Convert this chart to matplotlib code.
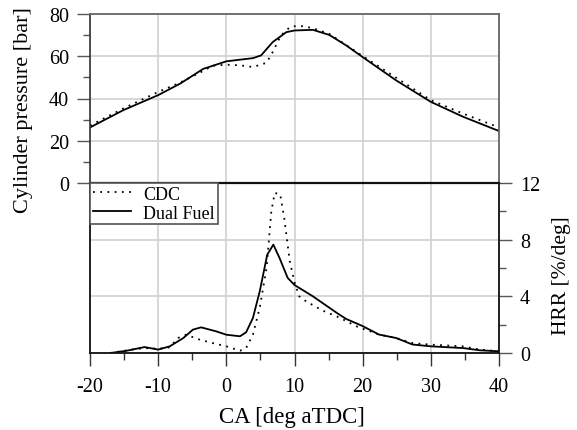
import matplotlib
matplotlib.use("Agg")
import matplotlib.pyplot as plt
from matplotlib.ticker import MultipleLocator

plt.rcParams['font.family'] = ['Liberation Serif', 'DejaVu Serif']
plt.rcParams['axes.unicode_minus'] = False

# Cylinder pressure [bar]
p_df_ca = [-20, -15.1, -10, -6.8, -3.4, 0, 3.9, 5.1, 6.8, 8.8, 10, 12.7, 15.1, 17.6, 20, 24.9, 30, 34.7, 40]
p_df = [26.3, 34.5, 41.6, 47, 54, 57.6, 59.1, 60.4, 66.7, 71.4, 72.2, 72.5, 70.1, 65.1, 59.6, 48.6, 38.4, 31.4, 24.6]
p_cdc_ca = [-20, -15.1, -10, -6.8, -3.9, -2, 0, 2, 3.9, 5.9, 6.8, 8, 9.3, 10, 11.2, 12.7, 15.1, 20, 30, 34.7, 40]
p_cdc = [27.2, 35.3, 43.1, 47.5, 52.2, 55.5, 56, 55.7, 54.9, 56.9, 62, 69.8, 73.7, 74.2, 74.2, 73.3, 70.6, 60.1, 39.2, 32.9, 26.3]

# Heat release rate [%/deg]
h_df_ca = [-17, -14.6, -12, -10, -8.3, -6.3, -4.9, -3.7, -1.5, 0, 2, 2.9, 3.9, 4.9, 6, 6.9, 7.8, 9, 10,
           12.7, 15.1, 16.3, 17.6, 20, 22.4, 24.9, 27.3, 30, 34.7, 37.2, 40]
h_df = [0, 0.16, 0.42, 0.24, 0.47, 1.06, 1.65, 1.81, 1.53, 1.29, 1.18, 1.46, 2.47, 4.35, 6.94, 7.65, 6.71, 5.3, 4.8,
        4.0, 3.2, 2.8, 2.4, 1.9, 1.3, 1.06, 0.6, 0.47, 0.35, 0.19, 0.12]
h_cdc_ca = [-17, -13.9, -12, -10, -8.3, -7.1, -5.9, -3.9, -2, 0, 2, 2.9, 3.9, 4.9, 5.9, 6.6, 7.1, 7.9, 8.5, 9.3, 10,
            10.7, 11.7, 14.1, 16.6, 19, 22.4, 24.9, 27.3, 30, 34.7, 37.2, 40]
h_cdc = [0, 0.24, 0.35, 0.3, 0.4, 1.06, 1.29, 0.94, 0.7, 0.47, 0.16, 0.35, 1.29, 3.2, 6.0, 10.0, 11.3, 11.2, 9.5, 6.5, 5.0,
         4.0, 3.65, 3.0, 2.5, 1.9, 1.3, 1.06, 0.7, 0.59, 0.47, 0.24, 0.12]

fig = plt.figure(figsize=(5.77, 4.31), dpi=100)
L, R = 90/577, 499/577
ax1 = fig.add_axes([L, 1-184/431, R-L, (184-15)/431])
ax2 = fig.add_axes([L, 1-354/431, R-L, (354-184)/431])

grid_kw = dict(color='#d4d4d4', lw=1.3)
fs = 14.5

# top panel
ax1.plot(p_cdc_ca, p_cdc, color='black', lw=1.3, ls=(0, (1, 3)))
ax1.plot(p_df_ca, p_df, color='black', lw=1.3)
ax1.set_xlim(-20, 40)
ax1.set_ylim(0, 80)
ax1.yaxis.set_major_locator(MultipleLocator(20))
ax1.yaxis.set_minor_locator(MultipleLocator(10))
ax1.xaxis.set_major_locator(MultipleLocator(10))
ax1.tick_params(axis='x', which='both', bottom=False, labelbottom=False)
ax1.tick_params(axis='y', which='major', direction='out', length=9.5, width=1, color='#555555', labelsize=fs, pad=5.5)
ax1.tick_params(axis='y', which='minor', direction='out', length=5, width=1, color='#555555')
ax1.grid(True, which='major', **grid_kw)
ax1.set_axisbelow(True)
for s in ['top', 'right']:
    ax1.spines[s].set_color('#666666')
    ax1.spines[s].set_linewidth(1.3)
ax1.spines['left'].set_color('#333333')
ax1.spines['left'].set_linewidth(1.2)
ax1.spines['bottom'].set_visible(False)
ax1.set_ylabel('Cylinder pressure [bar]', fontsize=16)
ax1.yaxis.set_label_coords((33-90)/409, (184-110)/169)

# bottom panel
ax2.plot(h_cdc_ca, h_cdc, color='black', lw=1.3, ls=(0, (1, 3)), label='CDC')
ax2.plot(h_df_ca, h_df, color='black', lw=1.3, label='Dual Fuel')
ax2.set_xlim(-20, 40)
ax2.set_ylim(0, 12)
ax2.xaxis.set_major_locator(MultipleLocator(10))
ax2.xaxis.set_minor_locator(MultipleLocator(5))
ax2.yaxis.set_major_locator(MultipleLocator(4))
ax2.yaxis.set_minor_locator(MultipleLocator(2))
ax2.yaxis.tick_right()
ax2.yaxis.set_label_position('right')
ax2.tick_params(axis='y', which='major', direction='out', length=9.5, width=1, color='#555555', labelsize=fs, pad=5.5)
ax2.tick_params(axis='y', which='minor', direction='out', length=5, width=1, color='#555555')
ax2.tick_params(axis='x', which='major', direction='out', length=9.5, width=1, color='#333333', labelsize=fs, pad=7.5)
ax2.tick_params(axis='x', which='minor', direction='out', length=5, width=1, color='#333333')
ax2.grid(True, which='major', **grid_kw)
ax2.set_axisbelow(True)
for s in ['top', 'bottom', 'left', 'right']:
    ax2.spines[s].set_color('#111111')
    ax2.spines[s].set_linewidth(1.3)
ax2.spines['top'].set_linewidth(1.6)
ax2.set_ylabel('HRR [%/deg]', fontsize=15.5)
ax2.yaxis.set_label_coords((552-90)/409, (354-276)/170)
ax2.set_xlabel('CA [deg aTDC]', fontsize=16.5)
ax2.xaxis.set_label_coords((292-90)/409, -(407-354)/170)
leg = ax2.legend(loc='upper left', borderaxespad=0, fontsize=13, fancybox=False,
                 framealpha=1, edgecolor='#555555', handlelength=2.1, handletextpad=0.7,
                 borderpad=0.15, labelspacing=0.1)
leg.get_frame().set_linewidth(1.2)

fig.savefig('out.png', dpi=100)
